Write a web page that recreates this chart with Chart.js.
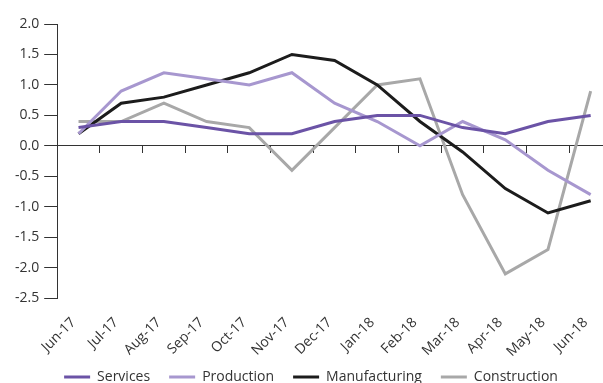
<!DOCTYPE html>
<html>
<head>
<meta charset="utf-8">
<script src="https://cdn.jsdelivr.net/npm/chart.js@4/dist/chart.umd.min.js"></script>
<style>
  html, body { margin: 0; padding: 0; background: #fff; }
  #wrap { width: 603px; height: 383px; overflow: hidden; position: relative; }
  #box { width: 632px; height: 394px; position: absolute; left: 0; top: 0; }
</style>
</head>
<body>
<div id="wrap"><div id="box"><canvas id="c"></canvas></div></div>
<script>
// Monthly growth by sector, % (Jun-17 to Jun-18)
const months = ['Jun-17','Jul-17','Aug-17','Sep-17','Oct-17','Nov-17','Dec-17','Jan-18','Feb-18','Mar-18','Apr-18','May-18','Jun-18'];
const services      = [0.3, 0.4, 0.4, 0.3, 0.2, 0.2, 0.4, 0.5, 0.5, 0.3, 0.2, 0.4, 0.5];
const production    = [0.2, 0.9, 1.2, 1.1, 1.0, 1.2, 0.7, 0.4, 0.0, 0.4, 0.1, -0.4, -0.8];
const manufacturing = [0.2, 0.7, 0.8, 1.0, 1.2, 1.5, 1.4, 1.0, 0.4, -0.1, -0.7, -1.1, -0.9];
const construction  = [0.4, 0.4, 0.7, 0.4, 0.3, -0.4, 0.3, 1.0, 1.1, -0.8, -2.1, -1.7, 0.9];

const yMin = -2.5, yMax = 2.0, yStep = 0.5;

const FONT = { family: "'Open Sans', sans-serif", size: 14 };
const INK = '#333333';

// Tighten the gap above the legend row: the legend reserves less height
// but its items are drawn where they would normally sit.
const LEGEND_TRIM = 17;
const compactLegend = {
  id: 'compactLegend',
  beforeLayout(chart) {
    const lg = chart.legend;
    if (!lg || lg._compact) return;
    lg._compact = true;
    const fit = lg.fit.bind(lg);
    lg.fit = function () { fit(); this.height = Math.max(0, this.height - LEGEND_TRIM); };
    const draw = lg.draw.bind(lg);
    lg.draw = function () {
      this.top -= LEGEND_TRIM;
      draw();
      this.top += LEGEND_TRIM;
    };
  }
};

function series(label, data, color) {
  return {
    label, data,
    borderColor: color, backgroundColor: color,
    borderWidth: 3, pointRadius: 0, tension: 0, fill: false,
    xAxisID: 'x', yAxisID: 'y'
  };
}

new Chart(document.getElementById('c'), {
  type: 'line',
  data: {
    labels: months,
    datasets: [
      series('Services', services, '#6b53a6'),
      series('Production', production, '#a797cf'),
      series('Manufacturing', manufacturing, '#1c1c1c'),
      series('Construction', construction, '#a8a8a8')
    ]
  },
  plugins: [compactLegend],
  options: {
    responsive: true,
    maintainAspectRatio: false,
    animation: false,
    layout: { padding: { left: 10, right: 20, top: 24, bottom: 0 } },
    plugins: {
      tooltip: { enabled: false },
      legend: {
        position: 'bottom',
        labels: {
          font: FONT, color: INK,
          boxWidth: 26, boxHeight: 3, padding: 19,
          generateLabels(chart) {
            return Chart.defaults.plugins.legend.labels.generateLabels(chart).map(l => {
              l.lineWidth = 0;
              l.fillStyle = chart.data.datasets[l.datasetIndex].borderColor;
              return l;
            });
          }
        }
      }
    },
    scales: {
      y: {
        min: yMin, max: yMax,
        ticks: {
          stepSize: yStep, font: FONT, color: INK, padding: 5,
          callback: v => v.toFixed(1)
        },
        grid: { drawOnChartArea: false, drawTicks: true, tickLength: 13, tickColor: INK },
        border: { color: INK, width: 1 }
      },
      x: {
        type: 'category',
        position: { y: 0 },
        offset: true,
        ticks: { display: false },
        grid: { offset: true, drawOnChartArea: false, drawTicks: true, tickLength: 7, tickColor: INK, lineWidth: 1 },
        border: { color: INK, width: 1 }
      },
      xb: {
        type: 'category',
        position: 'bottom',
        offset: true,
        ticks: { font: FONT, color: INK, minRotation: 45, maxRotation: 45, padding: 8, labelOffset: -5, autoSkip: false },
        grid: { display: false },
        border: { display: false }
      }
    }
  }
});
</script>
</body>
</html>
